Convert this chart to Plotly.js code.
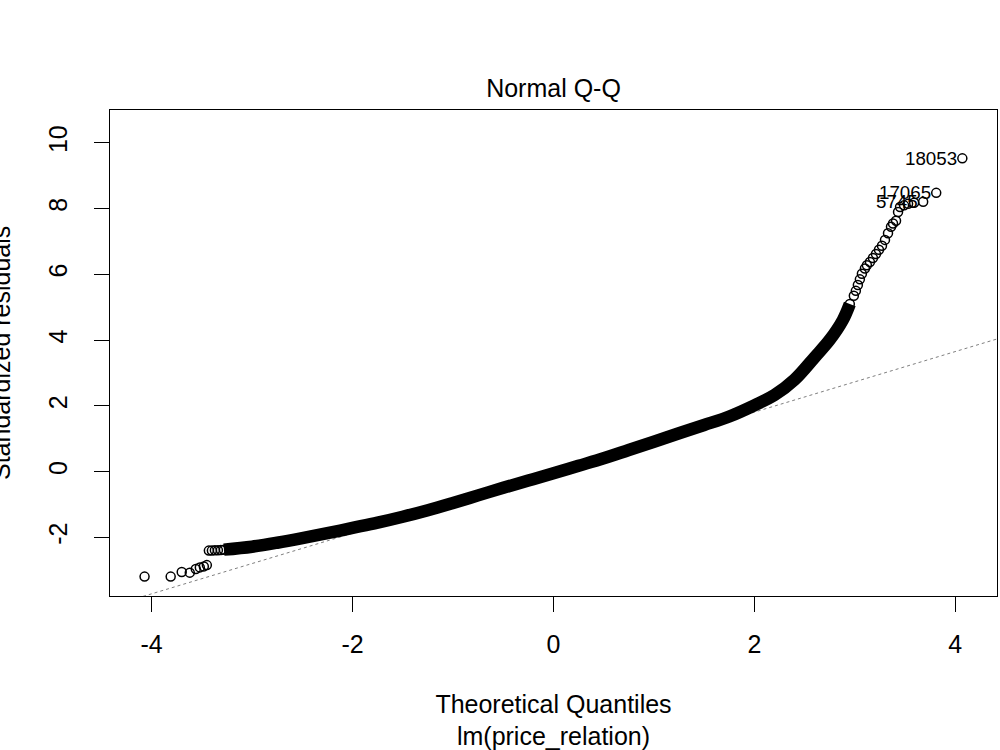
<!DOCTYPE html>
<html>
<head>
<meta charset="utf-8">
<script src="https://cdn.plot.ly/plotly-3.0.1.min.js"></script>
<style>html,body{margin:0;padding:0;background:#fff;}#chart{width:1000px;height:750px;}</style>
</head>
<body>
<div id="chart"></div>
<script>
// Lower tail points (theoretical quantile, standardized residual)
const tailLowX = [-4.07, -3.81, -3.70, -3.62, -3.56, -3.52, -3.48, -3.45, -3.43, -3.40, -3.37, -3.34, -3.31];
const tailLowY = [-3.19, -3.19, -3.05, -3.07, -2.96, -2.91, -2.88, -2.84, -2.40, -2.40, -2.39, -2.39, -2.38];

// Dense central band of points
const bandX = [-3.28, -3.0, -2.75, -2.5, -2.25, -2.0, -1.75, -1.5, -1.25, -1.0, -0.75, -0.5, -0.25, 0, 0.25, 0.5, 0.75, 1.0, 1.25, 1.5, 1.75, 2.0, 2.2, 2.4, 2.6, 2.75, 2.88, 2.95];
const bandY = [-2.37, -2.28, -2.16, -2.02, -1.87, -1.71, -1.55, -1.37, -1.17, -0.95, -0.72, -0.49, -0.27, -0.05, 0.18, 0.41, 0.66, 0.91, 1.17, 1.42, 1.68, 2.02, 2.33, 2.80, 3.48, 4.01, 4.61, 5.10];

// Upper tail points
const tailHighX = [2.99, 3.01, 3.03, 3.05, 3.07, 3.10, 3.12, 3.15, 3.18, 3.21, 3.24, 3.27, 3.30, 3.33, 3.36, 3.38, 3.41, 3.43, 3.45, 3.49, 3.53, 3.59, 3.68, 3.81, 4.07];
const tailHighY = [5.35, 5.50, 5.68, 5.85, 6.02, 6.18, 6.28, 6.38, 6.50, 6.62, 6.75, 6.87, 7.05, 7.25, 7.45, 7.55, 7.63, 7.90, 8.05, 8.10, 8.15, 8.18, 8.21, 8.48, 9.53];

// Labelled observations
const idLabels = ["18053", "17065", "5745"];
const idX = [4.07, 3.81, 3.68];
const idY = [9.53, 8.48, 8.21];

// Reference (qqline) parameters
const refIntercept = -0.03;
const refSlope = 0.921;

// Axis ticks
const xTicks = [-4, -2, 0, 2, 4];
const yTicks = [-2, 0, 2, 4, 6, 8, 10];

const FONT = "Liberation Sans, Arial, sans-serif";
const refX = [-5, 5];
const refY = refX.map(v => refIntercept + refSlope * v);

const markerStyle = {symbol: 'circle-open', size: 9, color: '#000', line: {color: '#000', width: 1.5}};

const traces = [
  {x: refX, y: refY, mode: 'lines', line: {color: '#7f7f7f', width: 1, dash: 'dot'}, hoverinfo: 'skip'},
  {x: bandX, y: bandY, mode: 'lines+markers', line: {color: '#000', width: 12.5, shape: 'spline'}, marker: markerStyle},
  {x: tailLowX, y: tailLowY, mode: 'markers', marker: markerStyle},
  {x: tailHighX, y: tailHighY, mode: 'markers', marker: markerStyle}
];

const annotations = idLabels.map((t, i) => ({
  x: idX[i], y: idY[i], xref: 'x', yref: 'y', text: t, showarrow: false,
  xanchor: 'right', yanchor: 'middle', xshift: -3,
  font: {family: FONT, size: 18.75, color: '#000'}
}));
annotations.push({
  xref: 'paper', yref: 'paper', x: (1 - 110) / 887, y: 0.5, text: 'Standardized residuals',
  textangle: -90, showarrow: false, xanchor: 'center', yanchor: 'middle',
  font: {family: FONT, size: 25, color: '#000'}
});

const axisCommon = {
  showgrid: false, zeroline: false, showline: true, mirror: true,
  linecolor: '#000', linewidth: 1, ticks: 'outside', ticklen: 15, tickwidth: 1, tickcolor: '#000',
  tickfont: {family: FONT, size: 25, color: '#000'}, fixedrange: true
};

const layout = {
  width: 1000, height: 750,
  margin: {l: 110, r: 3, t: 110, b: 154},
  paper_bgcolor: '#fff', plot_bgcolor: '#fff',
  showlegend: false,
  title: {text: 'Normal Q-Q', x: 0.5535, xref: 'container', y: 1 - 88 / 750, yanchor: 'middle',
          font: {family: FONT, size: 25, color: '#000'}},
  xaxis: Object.assign({}, axisCommon, {
    range: [-4.414, 4.415], tickvals: xTicks, ticktext: xTicks.map(String), ticklabelstandoff: 11,
    title: {text: 'Theoretical Quantiles<br>lm(price_relation)', standoff: 39,
            font: {family: FONT, size: 25, color: '#000'}}
  }),
  yaxis: Object.assign({}, axisCommon, {
    range: [-3.78, 11.0], tickvals: yTicks, ticktext: yTicks.map(String), tickangle: -90,
    ticklabelstandoff: 17
  }),
  annotations: annotations
};

Plotly.newPlot('chart', traces, layout, {displayModeBar: false, staticPlot: true});
</script>
</body>
</html>
